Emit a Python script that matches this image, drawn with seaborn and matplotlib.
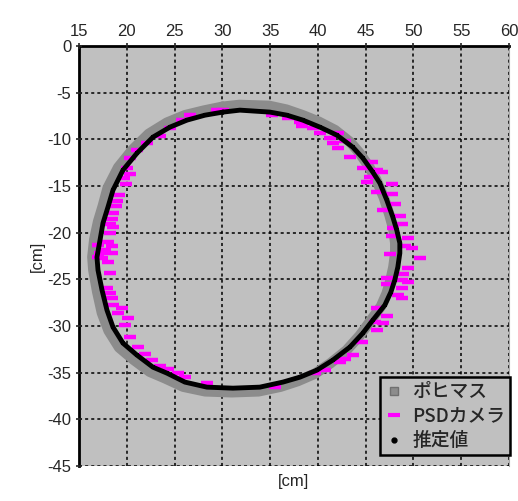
import seaborn as sns
import matplotlib.pyplot as plt
from matplotlib.lines import Line2D

# estimated trajectory (推定値), clockwise from the top
est_x = [30.06, 31.84, 34.98, 36.76, 38.43, 40.21, 41.99, 43.66, 44.71, 45.75,
         46.49, 47.22, 47.85, 48.26, 48.58, 48.58, 48.37, 48.05, 47.64, 47.01,
         45.75, 44.71, 43.35, 41.57, 39.90, 38.12, 36.34, 33.93, 31.11, 28.39,
         26.09, 24.21, 22.74, 21.07, 19.60, 18.56, 17.93, 17.41, 16.99, 16.88,
         17.20, 17.51, 18.03, 18.56, 19.60, 21.07, 22.74, 24.52, 26.30, 28.18]
est_y = [-7.07, -6.86, -7.07, -7.40, -7.93, -8.68, -9.54, -10.83, -12.00, -13.50,
         -14.68, -16.51, -18.33, -19.72, -21.11, -22.19, -23.69, -25.08, -26.37, -27.76,
         -29.37, -30.76, -32.26, -33.65, -34.73, -35.48, -36.01, -36.55, -36.66, -36.55,
         -36.01, -35.05, -34.41, -33.12, -31.83, -30.12, -28.30, -26.15, -24.01, -22.62,
         -20.79, -18.97, -17.26, -15.43, -13.29, -11.47, -9.75, -8.68, -7.93, -7.40]

# Polhemus sensor (ポヒマス)
pol_x = [30.0, 31.8, 34.9, 36.7, 38.4, 40.1, 41.8, 43.4, 44.4, 45.4,
         46.1, 46.9, 47.5, 47.9, 48.1, 48.1, 47.9, 47.6, 47.2, 46.6,
         45.4, 44.4, 43.0, 41.3, 39.7, 37.9, 36.1, 33.8, 31.0, 28.2,
         25.9, 24.0, 22.4, 20.7, 19.2, 18.1, 17.4, 16.9, 16.5, 16.4,
         16.6, 17.0, 17.5, 18.0, 19.1, 20.6, 22.3, 24.2, 26.1, 28.1]
pol_y = [-6.5, -6.3, -6.4, -6.8, -7.4, -8.1, -9.0, -10.3, -11.5, -13.0,
         -14.3, -16.2, -18.1, -19.6, -21.1, -22.2, -23.7, -25.1, -26.5, -27.9,
         -29.6, -31.0, -32.6, -34.0, -35.1, -35.9, -36.5, -37.0, -37.1, -37.0,
         -36.5, -35.6, -34.9, -33.6, -32.3, -30.5, -28.6, -26.3, -24.0, -22.6,
         -20.7, -18.8, -17.1, -15.2, -13.0, -11.1, -9.4, -8.2, -7.4, -6.9]

# PSD camera (PSDカメラ)
psd_x = [26.61, 25.77, 24.52, 23.47, 22.11, 21.07, 20.33, 20.02, 20.33, 19.71,
         19.92, 19.18, 18.97, 18.87, 18.56, 18.45, 18.24, 18.56, 18.24, 18.03,
         16.99, 18.45, 17.72, 17.20, 18.45, 17.41, 18.03, 16.99, 18.24, 17.93,
         18.24, 18.45, 18.56, 19.50, 19.08, 20.13, 19.81, 20.33, 21.17, 21.90,
         22.64, 23.47, 24.31, 25.36, 26.09, 28.39, 35.50, 39.69, 40.73, 42.30,
         42.82, 43.66, 44.60, 46.17, 45.96, 46.80, 47.22, 46.17, 48.37, 48.79,
         48.79, 47.22, 49.41, 48.79, 47.22, 48.89, 49.41, 50.67, 47.53, 49.83,
         49.10, 49.41, 47.74, 47.85, 48.79, 48.58, 46.80, 48.05, 47.74, 47.74,
         46.17, 46.69, 46.17, 45.44, 45.13, 45.65, 44.71, 43.35, 42.09, 42.82,
         41.57, 41.26, 42.09, 40.21, 39.48, 38.33, 38.12, 36.86, 35.19, 30.06,
         29.43]
psd_y = [-7.40, -7.93, -8.79, -9.65, -10.40, -11.15, -12.01, -13.08, -13.72, -14.15,
         -14.79, -15.97, -16.62, -17.15, -17.90, -18.55, -19.08, -19.40, -20.05, -21.01,
         -21.33, -21.44, -21.87, -22.19, -22.19, -22.73, -23.16, -22.62, -24.33, -25.94,
         -26.48, -27.01, -27.76, -28.09, -28.62, -29.16, -29.91, -31.20, -32.27, -33.02,
         -33.66, -34.30, -34.63, -35.05, -35.48, -36.13, -36.56, -35.05, -34.73, -33.88,
         -33.55, -33.12, -31.73, -30.44, -29.59, -29.69, -28.94, -28.09, -26.69, -27.01,
         -25.94, -25.51, -25.30, -25.08, -24.87, -24.44, -23.80, -22.73, -22.30, -21.65,
         -21.44, -20.58, -20.37, -19.51, -19.08, -18.22, -17.58, -16.94, -15.87, -14.79,
         -15.65, -13.51, -13.29, -14.04, -14.58, -12.44, -13.08, -11.90, -10.93, -10.18,
         -10.40, -9.86, -9.33, -9.33, -8.79, -8.58, -8.15, -7.72, -7.40, -6.86,
         -6.86]

x_ticks = [15, 20, 25, 30, 35, 40, 45, 50, 55, 60]
y_ticks = [0, -5, -10, -15, -20, -25, -30, -35, -40, -45]
labels = ['ポヒマス', 'PSDカメラ', '推定値']

sns.set_style('ticks', {'axes.facecolor': '#c0c0c0'})
plt.rcParams['font.family'] = ['Liberation Sans', 'Noto Sans CJK JP', 'DejaVu Sans']
plt.rcParams['axes.unicode_minus'] = False

fig = plt.figure(figsize=(5.18, 5.01), dpi=100)
ax = fig.add_axes([0.1525, 0.0699, 0.830, 0.838])

sns.lineplot(x=pol_x + pol_x[:1], y=pol_y + pol_y[:1], sort=False,
             estimator=None, errorbar=None, ax=ax,
             color='#8c8c8c', linewidth=7.5, zorder=3)
sns.scatterplot(x=psd_x, y=psd_y, ax=ax, marker='_', s=70, color='#ff00ff',
                linewidth=3.2, zorder=4)
sns.lineplot(x=est_x + est_x[:1], y=est_y + est_y[:1], sort=False,
             estimator=None, errorbar=None, ax=ax,
             color='black', linewidth=3.5, marker='s', markersize=3.5,
             markeredgewidth=0, zorder=5)

ax.set_xlim(15, 60)
ax.set_ylim(-45, 0)
ax.set_xticks(x_ticks)
ax.set_yticks(y_ticks)
ax.xaxis.tick_top()
ax.xaxis.set_label_position('bottom')
ax.tick_params(labelsize=12, length=4, width=1.2, direction='inout')
ax.grid(True, color='black', linestyle=(0, (2, 2)), linewidth=1.1)
ax.set_axisbelow(False)

for side in ['left', 'top']:
    ax.spines[side].set_linewidth(2)
    ax.spines[side].set_color('black')
ax.spines['right'].set_color('#a8a8a8')
ax.spines['bottom'].set_visible(False)

ax.set_xlabel('[cm]', fontsize=12, labelpad=6)
ax.set_ylabel('[cm]', fontsize=12, labelpad=2)

handles = [
    Line2D([], [], linestyle='none', marker='s', markersize=6,
           markerfacecolor='#8c8c8c', markeredgecolor='#707070'),
    Line2D([], [], linestyle='none', marker='_', markersize=9,
           markeredgewidth=3, color='#ff00ff'),
    Line2D([], [], linestyle='none', marker='o', markersize=3.5, color='black'),
]
leg = ax.legend(handles, labels, loc='lower right',
                bbox_to_anchor=(510 / 518, 46 / 501), bbox_transform=fig.transFigure,
                borderaxespad=0, fancybox=False, framealpha=1, edgecolor='black',
                handlelength=1.0, handletextpad=0.5, labelspacing=0.3,
                borderpad=0.25,
                prop={'family': ['Noto Sans CJK JP'], 'size': 13.5, 'weight': 'medium'})
leg.get_frame().set_linewidth(1.8)
leg.set_zorder(10)

fig.savefig('out.png', dpi=100)
